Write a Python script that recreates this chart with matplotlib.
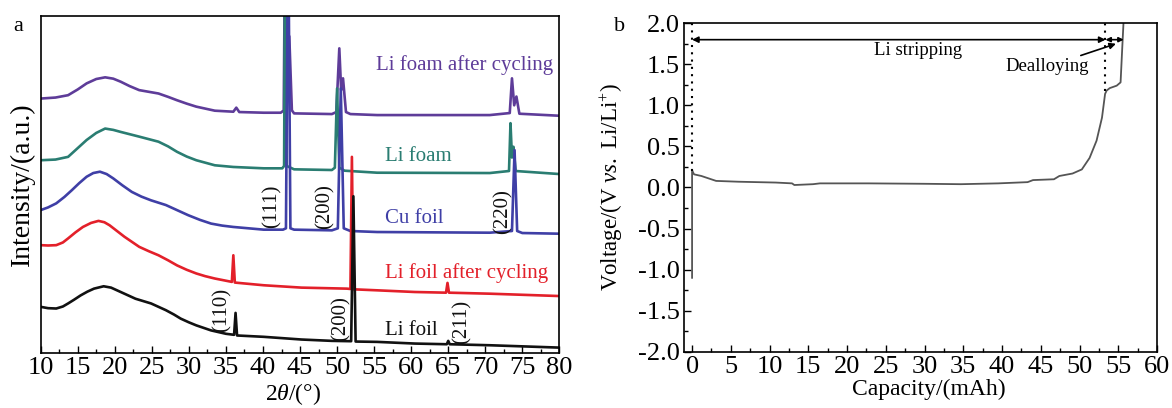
import matplotlib
matplotlib.use("Agg")
import matplotlib.pyplot as plt
from matplotlib.ticker import MultipleLocator, FormatStrFormatter

plt.rcParams['font.family'] = ['Liberation Serif', 'DejaVu Serif']
plt.rcParams['mathtext.fontset'] = 'custom'
plt.rcParams['mathtext.rm'] = 'Liberation Serif'
plt.rcParams['mathtext.it'] = 'Liberation Serif:italic'
plt.rcParams['axes.unicode_minus'] = False

# ---------------- Panel a: XRD (2theta in degrees, intensity in a.u.) ----------------
li_foil_2t = [10, 11, 12.1, 13, 13.7, 14.5, 15.4, 16.3, 17.2, 18.5, 19.5, 20.3, 21.5, 22.8, 24.9, 26.9,
              28.0, 28.9, 30.0, 31.0, 33.0, 35.0, 36.1, 36.3, 36.5, 40.1, 45.2, 49.3, 51.9, 52.2, 52.5,
              55.4, 60.5, 64.8, 65.0, 65.2, 70.6, 80]
li_foil_int = [13.7, 13.3, 13.2, 13.8, 14.7, 15.8, 17.1, 18.2, 19.1, 19.8, 19.4, 18.6, 17.4, 16.1, 14.7, 12.7,
               11.4, 10.2, 9.1, 8.2, 6.7, 5.7, 5.4, 11.9, 5.2, 4.8, 4.0, 3.6, 3.5, 46.5, 3.4,
               3.3, 2.8, 2.6, 3.6, 2.6, 2.3, 1.6]

li_foil_cyc_2t = [10, 11, 12.1, 13, 13.7, 14.7, 15.7, 16.8, 17.8, 18.6, 19.3, 20.3, 21.3, 22.3, 23.3, 24.6,
                  25.9, 27.2, 28.4, 29.7, 31.0, 32.2, 33.5, 35.8, 36.0, 36.2, 40.1, 45.2, 51.3, 51.8, 52.0,
                  52.2, 55.4, 60.5, 64.7, 64.9, 65.1, 70.6, 80]
li_foil_cyc_int = [32.0, 31.9, 32.0, 32.8, 34.0, 35.8, 37.4, 38.6, 39.2, 38.8, 37.9, 36.2, 34.5, 33.0, 31.5, 30.2,
                   29.0, 27.5, 26.0, 24.7, 23.6, 22.8, 22.1, 21.1, 29.0, 20.9, 20.1, 19.4, 19.1, 19.0, 58.2,
                   18.9, 18.6, 18.1, 17.9, 20.8, 17.9, 17.6, 16.9]

cu_foil_2t = [10, 11, 12.1, 13.2, 14.2, 15.2, 16.2, 17.1, 18.0, 18.9, 19.8, 21.0, 22.3, 23.6, 24.9, 26.9,
              28.4, 29.9, 31.5, 33.0, 34.5, 36.0, 40.1, 42.7, 43.1, 43.4, 43.7, 44.2, 49.3, 50.1, 50.5,
              50.9, 51.8, 55.4, 70.6, 73.6, 73.95, 74.3, 75.0, 80]
cu_foil_int = [42.4, 43.2, 44.4, 46.3, 48.3, 50.4, 52.3, 53.4, 53.8, 53.1, 51.8, 49.8, 47.8, 46.4, 45.3, 43.9,
               42.4, 40.9, 39.5, 38.4, 37.8, 37.4, 36.6, 36.6, 37.0, 130, 37.0, 36.6, 36.4, 37.0, 78.5,
               37.0, 36.2, 35.9, 35.7, 36.2, 60.2, 36.2, 35.6, 35.4]

li_foam_2t = [10, 12, 13.7, 15, 16.2, 17.5, 18.7, 19.8, 20.8, 23.3, 25.9, 27.2, 28.4, 29.7, 31.0, 33.5,
              36.0, 40.1, 42.6, 42.85, 43.0, 43.2, 44.2, 49.3, 49.7, 50.0, 50.3, 51.0, 55.4, 70.6, 73.2,
              73.4, 73.6, 73.8, 74.1, 80]
li_foam_int = [57.2, 57.4, 58.2, 60.8, 63.2, 65.3, 66.6, 66.2, 65.6, 64.2, 62.7, 61.3, 59.7, 58.3, 57.2, 55.7,
               55.2, 54.8, 54.8, 55.5, 130, 55.5, 54.5, 54.3, 55.0, 78.5, 55.0, 54.1, 53.5, 53.4, 54.0,
               68.2, 58.0, 61.2, 54.0, 53.1]

li_foam_cyc_2t = [10, 12, 13.7, 15, 16.2, 17.5, 18.7, 19.8, 20.8, 22, 23.3, 25.9, 27.2, 28.4, 29.7, 31.0,
                  33.5, 36.0, 36.4, 36.8, 40.1, 42.4, 42.8, 43.0, 43.3, 43.55, 43.9, 44.2, 49.3, 49.9, 50.3,
                  50.55, 50.8, 51.2, 51.8, 55.4, 70.6, 73.3, 73.6, 73.9, 74.2, 74.6, 80]
li_foam_cyc_int = [75.5, 75.8, 76.5, 78.2, 80.0, 81.3, 81.8, 81.4, 80.5, 79.2, 78.0, 77.0, 76.0, 75.0, 74.0, 73.1,
                   71.9, 71.6, 72.8, 71.5, 71.3, 71.3, 72.0, 130, 85.0, 94.0, 72.0, 71.1, 70.9, 71.5, 90.4,
                   78.0, 81.5, 71.5, 70.9, 70.6, 70.6, 71.2, 81.5, 73.5, 76.1, 71.0, 70.4]

series_names = ["Li foil", "Li foil after cycling", "Cu foil", "Li foam", "Li foam after cycling"]
series_colors = ["#111111", "#e3202a", "#3f3fa6", "#2a7d72", "#5e3c99"]

# ---------------- Panel b: voltage profile ----------------
capacity = [0, 0, 0.25, 1.2, 3.1, 6.0, 10.8, 12.9, 13.2, 15.6, 16.5, 22.7, 29.9, 34.7, 39.5, 43.3,
            44.0, 46.7, 47.4, 49.1, 50.3, 51.3, 52.2, 52.9, 53.3, 53.5, 53.9, 54.8, 55.3, 55.5, 55.7]
voltage = [-1.10, 0.21, 0.16, 0.14, 0.08, 0.07, 0.06, 0.05, 0.03, 0.04, 0.05, 0.05, 0.045, 0.04, 0.05,
           0.065, 0.09, 0.10, 0.14, 0.17, 0.22, 0.36, 0.57, 0.85, 1.14, 1.18, 1.21, 1.24, 1.28, 1.67, 2.05]

strip_start, strip_end, dealloy_end = 0.0, 53.35, 55.7

fig = plt.figure(figsize=(11.72, 4.08), dpi=100)
axa = fig.add_axes([0.0347, 0.1348, 0.4426, 0.826])
axb = fig.add_axes([0.5839, 0.138, 0.4033, 0.805])

xs = [li_foil_2t, li_foil_cyc_2t, cu_foil_2t, li_foam_2t, li_foam_cyc_2t]
ys = [li_foil_int, li_foil_cyc_int, cu_foil_int, li_foam_int, li_foam_cyc_int]
for x, y, c in zip(reversed(xs), reversed(ys), reversed(series_colors)):
    axa.plot(x, y, color=c, lw=1.9, solid_joinstyle='round')

tick_fs = 19
axa.set_xlim(10, 80)
axa.set_ylim(0, 100)
axa.xaxis.set_major_locator(MultipleLocator(5))
axa.xaxis.set_minor_locator(MultipleLocator(2.5))
axa.set_yticks([])
axa.tick_params(axis='x', which='major', direction='in', length=5, width=1, labelsize=tick_fs, pad=3)
axa.tick_params(axis='x', which='minor', direction='in', length=3, width=1)
axa.set_xlabel(r"2$\it{\theta}$/(°)", fontsize=17, va='center')
axa.xaxis.set_label_coords(0.486, -0.122)
axa.set_ylabel("Intensity/(a.u.)", fontsize=20, va='center')
axa.yaxis.set_label_coords(-0.036, 0.5)
for s in axa.spines.values():
    s.set_linewidth(1.2)

lab_fs = 15
axa.text(79.1, 85.5, series_names[4], color=series_colors[4], fontsize=lab_fs, ha='right', va='center')
axa.text(56.4, 58.3, series_names[3], color=series_colors[3], fontsize=lab_fs, ha='left', va='center')
axa.text(56.4, 40.0, series_names[2], color=series_colors[2], fontsize=lab_fs, ha='left', va='center')
axa.text(56.4, 23.6, series_names[1], color=series_colors[1], fontsize=lab_fs, ha='left', va='center')
axa.text(56.4, 6.8, series_names[0], color=series_colors[0], fontsize=lab_fs, ha='left', va='center')

hkl = [("(111)", 41.2, 43.4), ("(200)", 48.35, 43.4), ("(220)", 72.4, 41.9),
       ("(110)", 34.5, 12.8), ("(200)", 50.5, 10.3), ("(211)", 66.8, 9.3)]
for t, x, y in hkl:
    axa.text(x, y, t, rotation=90, fontsize=15, ha='center', va='center', color='#111111')

fig.text(0.011, 0.935, "a", fontsize=16, ha='left', va='center')
fig.text(0.524, 0.935, "b", fontsize=16, ha='left', va='center')

# Panel b
axb.plot(capacity, voltage, color='#555555', lw=1.3)
axb.set_xlim(-1, 60)
axb.set_ylim(-2.0, 2.0)
axb.xaxis.set_major_locator(MultipleLocator(5))
axb.xaxis.set_minor_locator(MultipleLocator(2.5))
axb.yaxis.set_major_locator(MultipleLocator(0.5))
axb.yaxis.set_minor_locator(MultipleLocator(0.25))
axb.yaxis.set_major_formatter(FormatStrFormatter('%.1f'))
axb.tick_params(which='major', direction='in', length=5, width=1, labelsize=tick_fs, pad=3)
axb.tick_params(which='minor', direction='in', length=3, width=1)
axb.set_xlabel("Capacity/(mAh)", fontsize=17, va='center')
axb.xaxis.set_label_coords(0.518, -0.114)
axb.set_ylabel(r"Voltage/(V $\it{vs.}$ Li/Li$^{+}$)", fontsize=16.5, va='center')
axb.yaxis.set_label_coords(-0.153, 0.5)
for s in axb.spines.values():
    s.set_linewidth(1.2)

axb.plot([strip_start, strip_start], [0.2, 2.0], ls=(0, (1, 2.5)), color='black', lw=1.5)
axb.plot([strip_end, strip_end], [1.18, 2.0], ls=(0, (1, 2.5)), color='black', lw=1.5)
axb.annotate('', xy=(strip_start, 1.8), xytext=(strip_end, 1.8),
             arrowprops=dict(arrowstyle='<|-|>', color='black', lw=1.2, mutation_scale=9,
                             shrinkA=0, shrinkB=0))
axb.annotate('', xy=(strip_end, 1.8), xytext=(dealloy_end, 1.8),
             arrowprops=dict(arrowstyle='<|-|>', color='black', lw=1.2, mutation_scale=7,
                             shrinkA=0, shrinkB=0))
axb.text(29.2, 1.67, "Li stripping", fontsize=13.5, ha='center', va='center')
axb.annotate("Dealloying", xy=(54.7, 1.75), xytext=(45.8, 1.47), fontsize=13.5,
             ha='center', va='center',
             arrowprops=dict(arrowstyle='-|>', color='black', lw=1.2, mutation_scale=9,
                             shrinkA=28, shrinkB=0))

fig.savefig("out.png", dpi=100)
